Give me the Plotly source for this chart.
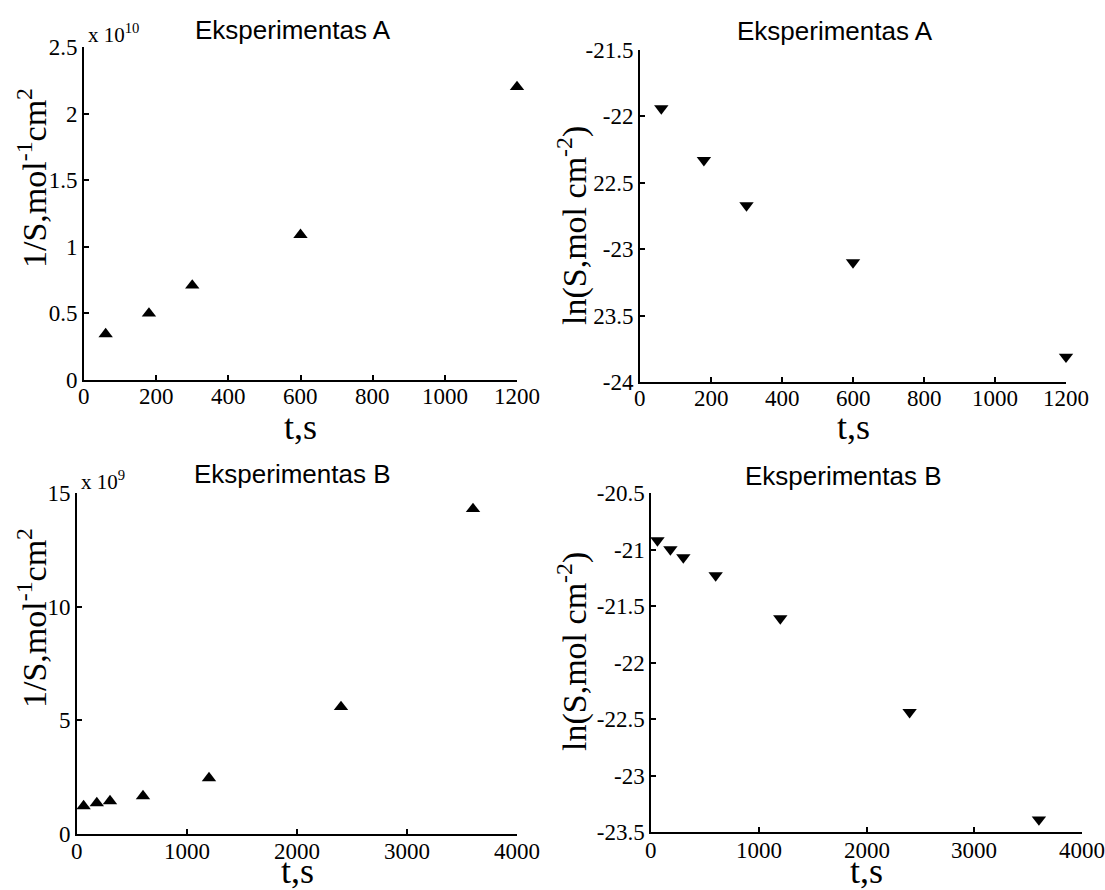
import plotly.graph_objects as go

# ---------------- data ----------------
t_A = [60, 180, 300, 600, 1200]
invS_A_e10 = [0.345, 0.50, 0.71, 1.09, 2.20]          # 1/S in units of 1e10
lnS_A = [-21.94, -22.33, -22.67, -23.10, -23.81]

t_B = [60, 180, 300, 600, 1200, 2400, 3600]
invS_B_e9 = [1.23, 1.36, 1.45, 1.67, 2.46, 5.59, 14.3]  # 1/S in units of 1e9
lnS_B = [-20.92, -21.00, -21.07, -21.23, -21.61, -22.44, -23.39]

xt_A = [0, 200, 400, 600, 800, 1000, 1200]
yt_A_inv = [0, 0.5, 1, 1.5, 2, 2.5]
yt_A_inv_txt = ["0", "0.5", "1", "1.5", "2", "2.5"]
yt_A_ln = [-24, -23.5, -23, -22.5, -22, -21.5]
yt_A_ln_txt = ["-24", "23.5", "-23", "22.5", "-22", "-21.5"]

xt_B = [0, 1000, 2000, 3000, 4000]
yt_B_inv = [0, 5, 10, 15]
yt_B_ln = [-23.5, -23, -22.5, -22, -21.5, -21, -20.5]
yt_B_ln_txt = ["-23.5", "-23", "-22.5", "-22", "-21.5", "-21", "-20.5"]

titles = ["Eksperimentas A", "Eksperimentas A", "Eksperimentas B", "Eksperimentas B"]
ylab_inv = "1/S,mol<sup>-1</sup>cm<sup>2</sup>"
ylab_ln = "ln(S,mol cm<sup>-2</sup>)"
xlab = "t,s"

# ---------------- layout helpers ----------------
W, H = 1105, 890
def px(x):
    return x / W
def py(y):
    return 1 - y / H

SERIF = "Liberation Serif, Times New Roman, serif"
SANS = "Liberation Sans, Arial, sans-serif"
TICKSIZE = 23

fig = go.Figure()
mk = dict(color="black", size=12.5, line=dict(width=0))
fig.add_trace(go.Scatter(x=t_A, y=invS_A_e10, mode="markers", cliponaxis=False,
                         marker=dict(symbol="triangle-up", **mk), xaxis="x", yaxis="y"))
fig.add_trace(go.Scatter(x=t_A, y=lnS_A, mode="markers", cliponaxis=False,
                         marker=dict(symbol="triangle-down", **mk), xaxis="x2", yaxis="y2"))
fig.add_trace(go.Scatter(x=t_B, y=invS_B_e9, mode="markers", cliponaxis=False,
                         marker=dict(symbol="triangle-up", **mk), xaxis="x3", yaxis="y3"))
fig.add_trace(go.Scatter(x=t_B, y=lnS_B, mode="markers", cliponaxis=False,
                         marker=dict(symbol="triangle-down", **mk), xaxis="x4", yaxis="y4"))

def ax(domain, rng, tv, tt, anchor, lw=2, showlabels=True):
    return dict(domain=domain, range=rng, tickmode="array", tickvals=tv, ticktext=tt,
                showline=True, linecolor="black", linewidth=lw, mirror=False,
                ticks="inside", ticklen=5, tickwidth=2, tickcolor="black",
                showgrid=False, zeroline=False, anchor=anchor, automargin=False,
                showticklabels=showlabels,
                tickfont=dict(family=SERIF, size=TICKSIZE, color="black"))

fig.update_layout(
    width=W, height=H, margin=dict(l=0, r=0, t=0, b=0, pad=0, autoexpand=False),
    paper_bgcolor="white", plot_bgcolor="white", showlegend=False,
    xaxis=ax([px(84), px(517)], [0, 1200], xt_A, None, "y", showlabels=False),
    yaxis=ax([py(380), py(47)], [0, 2.5], yt_A_inv, yt_A_inv_txt, "x"),
    xaxis2=ax([px(640), px(1066)], [0, 1200], xt_A, None, "y2", showlabels=False),
    yaxis2=ax([py(382), py(50)], [-24, -21.5], yt_A_ln, yt_A_ln_txt, "x2"),
    xaxis3=ax([px(77), px(517)], [0, 4000], xt_B, None, "y3", showlabels=False),
    yaxis3=ax([py(834), py(493)], [0, 15], yt_B_inv, [str(v) for v in yt_B_inv], "x3"),
    xaxis4=ax([px(651), px(1082)], [0, 4000], xt_B, None, "y4", lw=1.5, showlabels=False),
    yaxis4=ax([py(832), py(493)], [-23.5, -20.5], yt_B_ln, yt_B_ln_txt, "x4", lw=1.5),
)

ann = []
# x tick labels (placed on each axis' own scale, just below the axis line)
for (xref, vals, top) in [("x", xt_A, 382), ("x2", xt_A, 384),
                          ("x3", xt_B, 837), ("x4", xt_B, 836)]:
    for v in vals:
        ann.append(dict(x=v, y=py(top), xref=xref, yref="paper", text=str(v),
                        showarrow=False, xanchor="center", yanchor="top",
                        font=dict(family=SERIF, size=TICKSIZE, color="black")))
# panel titles
for (cx, cy, txt) in [(293, 30, titles[0]), (835, 31, titles[1]),
                      (292, 474, titles[2]), (843, 476, titles[3])]:
    ann.append(dict(x=px(cx), y=py(cy), xref="paper", yref="paper", text=txt,
                    showarrow=False, xanchor="center", yanchor="middle",
                    font=dict(family=SANS, size=26, color="black")))
# x-axis titles
for (cx, cy) in [(300, 427), (853, 427), (297, 871), (866, 871)]:
    ann.append(dict(x=px(cx), y=py(cy), xref="paper", yref="paper", text=xlab,
                    showarrow=False, xanchor="center", yanchor="middle",
                    font=dict(family=SERIF, size=36, color="black")))
# y-axis titles
for (cx, cy, txt) in [(32, 178, ylab_inv), (572, 226, ylab_ln),
                      (32, 618, ylab_inv), (572, 652, ylab_ln)]:
    ann.append(dict(x=px(cx), y=py(cy), xref="paper", yref="paper", text=txt,
                    showarrow=False, xanchor="center", yanchor="middle", textangle=-90,
                    font=dict(family=SERIF, size=34, color="black")))
# exponent multipliers
for (lx, by, txt) in [(86, 49, "x 10<sup>10</sup>"), (79, 496, "x 10<sup>9</sup>")]:
    ann.append(dict(x=px(lx), y=py(by), xref="paper", yref="paper", text=txt,
                    showarrow=False, xanchor="left", yanchor="bottom",
                    font=dict(family=SERIF, size=21, color="black")))
fig.update_layout(annotations=ann)

fig.write_html("out.html")
